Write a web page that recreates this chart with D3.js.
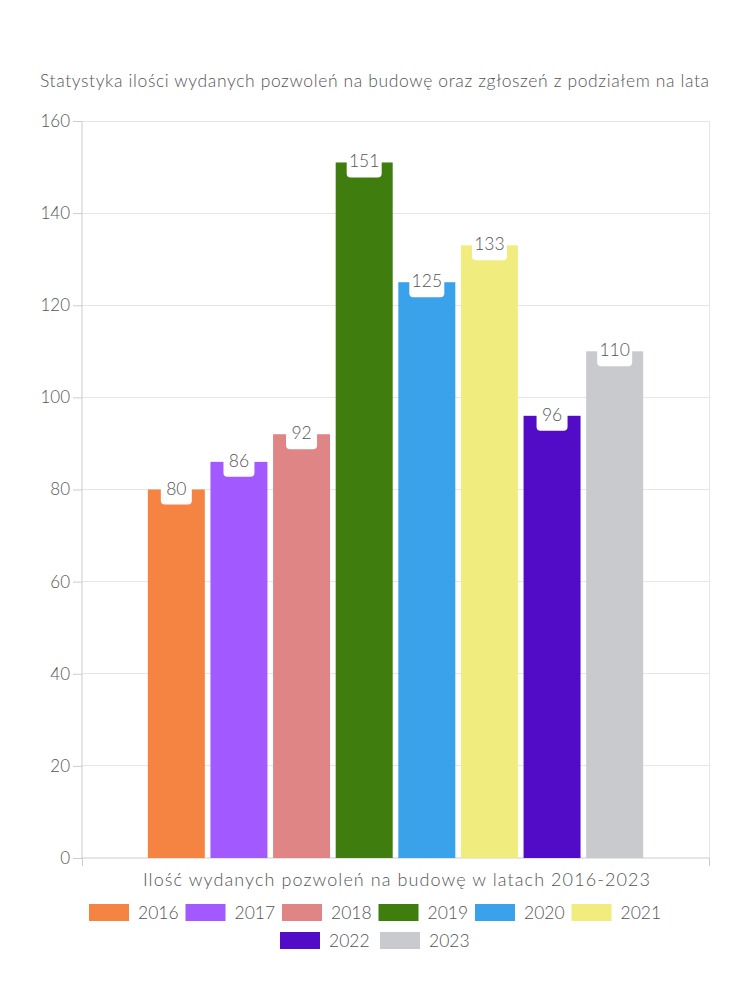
<!DOCTYPE html>
<html><head><meta charset="utf-8">
<script src="https://cdn.jsdelivr.net/npm/d3@7"></script>
<style>body{margin:0;background:#fff}text{font-family:"Lato","Noto Sans",sans-serif;font-weight:300}</style>
</head><body>
<svg id="c" width="750" height="1000"></svg>
<script>
const years = ["2016","2017","2018","2019","2020","2021","2022","2023"];
const values = [80,86,92,151,125,133,96,110];
const colors = ["#F58442","#A259FF","#E08585","#3E7D0E","#39A2EA","#F0EC7E","#520BC6","#C9CACE"];
const yTicks = [0,20,40,60,80,100,120,140,160];
const category = ["Ilość wydanych pozwoleń na budowę w latach 2016-2023"];
const title = "Statystyka ilości wydanych pozwoleń na budowę oraz zgłoszeń z podziałem na lata";

const svg = d3.select("#c");
const L=82,R=709,T=121,B=858;
const txt="#555555";
const y = d3.scaleLinear().domain([0,160]).range([B,T]);
const x0 = d3.scaleBand().domain(category).range([L,R]).paddingInner(0).paddingOuter(0.125);
const x1 = d3.scaleBand().domain(years).range([0,x0.bandwidth()]).paddingInner(0.09).paddingOuter(0.05);

svg.append("text").attr("x",374.5).attr("y",87).attr("text-anchor","middle")
  .attr("font-size",17.5).attr("fill",txt).attr("textLength",669).attr("lengthAdjust","spacing").text(title);

// grid
svg.append("g").selectAll("line").data(yTicks.filter(d=>d>0)).join("line")
  .attr("x1",L).attr("x2",R).attr("y1",d=>y(d)).attr("y2",d=>y(d))
  .attr("stroke","#e6e6e6").attr("stroke-width",1).attr("shape-rendering","crispEdges");
svg.append("line").attr("x1",R).attr("x2",R).attr("y1",T).attr("y2",B).attr("stroke","#e6e6e6").attr("shape-rendering","crispEdges");

// y axis
const ya = svg.append("g").attr("transform",`translate(${L},0)`)
  .call(d3.axisLeft(y).tickValues(yTicks).tickSize(9).tickPadding(3));
ya.select(".domain").attr("stroke","#cccccc").attr("d",`M-0,${T}V${B}`);
ya.selectAll(".tick line").attr("stroke","#cccccc");
ya.selectAll(".tick text").attr("font-size",17).attr("fill",txt).attr("font-family","Lato, sans-serif").attr("font-weight",300);

// x axis
const xa = svg.append("g").attr("transform",`translate(0,${B})`)
  .call(d3.axisBottom(d3.scaleLinear().domain([0,1]).range([L,R])).tickValues([0,1]).tickSize(8).tickFormat(""));
xa.select(".domain").attr("stroke","#cccccc").attr("d",`M${L},0H${R}`);
xa.selectAll(".tick line").attr("stroke","#cccccc");

// bars
const g = svg.append("g").attr("transform",`translate(${x0(category[0])},0)`);
const data = years.map((yr,i)=>({yr,v:values[i],c:colors[i]}));
g.selectAll("rect.bar").data(data).join("rect").attr("class","bar")
  .attr("x",d=>x1(d.yr)).attr("width",x1.bandwidth())
  .attr("y",d=>y(d.v)).attr("height",d=>B-y(d.v)).attr("fill",d=>d.c);

// labels
const lab = g.selectAll("g.lab").data(data).join("g").attr("class","lab")
  .attr("transform",d=>`translate(${x1(d.yr)+x1.bandwidth()/2},${y(d.v)})`);
lab.append("rect").attr("x",d=>d.v>=100?-17.5:-15.5).attr("width",d=>d.v>=100?35:31)
  .attr("y",-10).attr("height",25).attr("rx",4).attr("fill","#fff");
lab.append("text").attr("text-anchor","middle").attr("y",5).attr("font-size",17.5).attr("fill",txt).text(d=>d.v);

// x title
svg.append("text").attr("x",396.5).attr("y",886).attr("text-anchor","middle").attr("font-size",18)
  .attr("textLength",507).attr("lengthAdjust","spacing").attr("fill",txt).text(category[0]);

// legend
const rows=[years.slice(0,6),years.slice(6)];
const itemW=96.5, sw=40, sh=17;
rows.forEach((row,ri)=>{
  const start = ri===0?89:280;
  row.forEach((yr,j)=>{
    const i=years.indexOf(yr);
    const gx = start + j*(ri===0?itemW:100);
    const gy = 904 + ri*28;
    svg.append("rect").attr("x",gx).attr("y",gy).attr("width",sw).attr("height",sh).attr("fill",colors[i]);
    svg.append("text").attr("x",gx+49).attr("y",gy+15).attr("font-size",17.5).attr("fill",txt).text(yr);
  });
});
</script>
</body></html>
